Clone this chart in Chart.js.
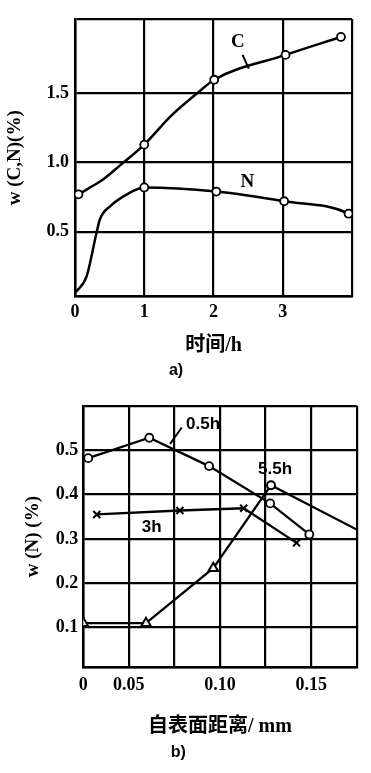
<!DOCTYPE html>
<html>
<head>
<meta charset="utf-8">
<script src="https://cdn.jsdelivr.net/npm/chart.js@4.4.1/dist/chart.umd.min.js"></script>
<style>
  html, body { margin: 0; padding: 0; background: #fff; }
  canvas { display: block; }
</style>
</head>
<body>
<canvas id="chartA" width="371" height="390"></canvas>
<canvas id="chartB" width="371" height="383"></canvas>
<script>
/* a) carbon / nitrogen content vs. time */
var timeTicks = [0, 1, 2, 3, 4];
var timeTickLabels = ['0', '1', '2', '3', ''];
var contentTicks = [0.03, 0.5, 1.0, 1.5, 2.04];
var contentTickLabels = ['', '0.5', '1.0', '1.5', ''];

// curve; marked = drawn with an open circle
var carbonTime = [0.05, 0.22, 0.41, 0.65, 1.0, 1.38, 1.76, 2.01, 3.04, 3.84];
var carbonValue = [0.77, 0.82, 0.88, 0.98, 1.13, 1.335, 1.50, 1.60, 1.78, 1.91];
var carbonMarked = [1, 0, 0, 0, 1, 0, 0, 1, 1, 1];

var nitrogenTime = [0.01, 0.17, 0.31, 0.36, 0.51, 0.75, 1.0, 2.04, 3.02, 3.95, 4.0];
var nitrogenValue = [0.06, 0.18, 0.49, 0.59, 0.685, 0.77, 0.82, 0.79, 0.72, 0.63, 0.61];
var nitrogenMarked = [0, 0, 0, 0, 0, 0, 1, 1, 1, 1, 0];

var labelsA = [
  { text: 'C', x: 2.35, y: 1.87 },
  { text: 'N', x: 2.49, y: 0.86 }
];
var leadersA = [[2.42, 1.78, 2.51, 1.68]];

/* b) nitrogen vs. depth below surface */
var depthTicks = [0.025, 0.05, 0.075, 0.1, 0.125, 0.15, 0.175];
var depthTickLabels = ['0', '0.05', '', '0.10', '', '0.15', ''];
var nitrogenTicks = [0.01, 0.1, 0.2, 0.3, 0.4, 0.5, 0.6];
var nitrogenTickLabels = ['', '0.1', '0.2', '0.3', '0.4', '0.5', ''];

var depth05h = [0.0277, 0.0612, 0.094, 0.1275, 0.149];
var n05h = [0.482, 0.528, 0.464, 0.38, 0.31];

var depth3h = [0.0324, 0.078, 0.113, 0.142];
var n3h = [0.355, 0.364, 0.369, 0.291];

var depth55h = [0.025, 0.0594, 0.0963, 0.128, 0.175];
var n55h = [0.11, 0.11, 0.234, 0.421, 0.321];
var style55h = ['triangle', 'triangle', 'triangle', 'circle', 'circle'];
var size55h = [5.5, 5.5, 5.5, 4, 0];

var labelsB = [
  { text: '0.5h', x: 0.0907, y: 0.559 },
  { text: '5.5h', x: 0.1302, y: 0.457 },
  { text: '3h', x: 0.0625, y: 0.326 }
];
var leadersB = [[0.079, 0.551, 0.0726, 0.514]];

var SERIF = "'Liberation Serif', 'DejaVu Serif', 'Noto Sans CJK SC', serif";
var SANS = "'Liberation Sans', 'Noto Sans CJK SC', sans-serif";
Chart.defaults.font.family = SERIF;
Chart.defaults.color = '#000';

function pairs(xs, ys) {
  return xs.map(function(x, i) { return { x: x, y: ys[i] }; });
}

function markerSizes(flags) {
  return flags.map(function(m) { return m ? 4 : 0; });
}

function fixedTicks(values) {
  return function(scale) {
    scale.ticks = values.map(function(v) { return { value: v }; });
  };
}

function labelPlugin(labels, leaders, font) {
  return {
    id: 'curveLabels',
    afterDatasetsDraw: function(chart) {
      var ctx = chart.ctx, xs = chart.scales.x, ys = chart.scales.y;
      ctx.save();
      ctx.fillStyle = '#000';
      ctx.strokeStyle = '#000';
      ctx.lineWidth = 2;
      ctx.font = font;
      ctx.textAlign = 'center';
      ctx.textBaseline = 'middle';
      labels.forEach(function(l) {
        ctx.fillText(l.text, xs.getPixelForValue(l.x), ys.getPixelForValue(l.y));
      });
      leaders.forEach(function(s) {
        ctx.beginPath();
        ctx.moveTo(xs.getPixelForValue(s[0]), ys.getPixelForValue(s[1]));
        ctx.lineTo(xs.getPixelForValue(s[2]), ys.getPixelForValue(s[3]));
        ctx.stroke();
      });
      ctx.restore();
    }
  };
}

var GRID = { color: '#000', lineWidth: 2.2, drawTicks: false };
var BORDER = { color: '#000', width: 2.5 };
var TICK_FONT = { family: SERIF, size: 18, weight: 'bold' };
var TITLE_FONT = { family: SERIF, size: 20, weight: 'bold' };
var YTITLE_FONT = { family: SERIF, size: 19, weight: 'bold' };

new Chart(document.getElementById('chartA'), {
  type: 'line',
  data: {
    datasets: [{
      label: 'C',
      data: pairs(carbonTime, carbonValue),
      borderColor: '#000', borderWidth: 2.5,
      cubicInterpolationMode: 'monotone',
      pointRadius: markerSizes(carbonMarked), pointBackgroundColor: '#fff',
      pointBorderColor: '#000', pointBorderWidth: 1.8
    }, {
      label: 'N',
      data: pairs(nitrogenTime, nitrogenValue),
      borderColor: '#000', borderWidth: 2.5,
      cubicInterpolationMode: 'monotone',
      pointRadius: markerSizes(nitrogenMarked),
      pointBackgroundColor: '#fff',
      pointBorderColor: '#000', pointBorderWidth: 1.8
    }]
  },
  options: {
    responsive: false,
    animation: false,
    layout: { padding: { left: 0, right: 19, top: 19, bottom: 4 } },
    plugins: {
      legend: { display: false },
      tooltip: { enabled: false },
      title: {
        display: true, position: 'bottom', text: 'a)', color: '#000',
        font: { family: SANS, size: 16, weight: 'bold' },
        padding: { top: 0, bottom: 6 }
      }
    },
    scales: {
      x: {
        type: 'linear', min: 0, max: 4,
        afterBuildTicks: fixedTicks(timeTicks),
        afterFit: function(s) { s.height = 64.3; },
        ticks: {
          autoSkip: false, maxRotation: 0, padding: 5, font: TICK_FONT,
          callback: function(v, i) { return timeTickLabels[i]; }
        },
        grid: GRID, border: BORDER,
        title: { display: true, text: '时间/h', font: TITLE_FONT, padding: { top: 0, bottom: 3 } }
      },
      y: {
        type: 'linear', min: 0.03, max: 2.04,
        afterBuildTicks: fixedTicks(contentTicks),
        afterFit: function(s) { s.width = 75; },
        ticks: {
          autoSkip: false, padding: 6, font: TICK_FONT,
          callback: function(v, i) { return contentTickLabels[i]; }
        },
        grid: GRID, border: BORDER,
        title: { display: true, text: 'w (C,N)(%)', font: YTITLE_FONT, padding: { top: 4, bottom: 0 } }
      }
    }
  },
  plugins: [labelPlugin(labelsA, leadersA, "bold 19px " + SERIF)]
});

new Chart(document.getElementById('chartB'), {
  type: 'line',
  data: {
    datasets: [{
      label: '0.5h',
      data: pairs(depth05h, n05h),
      borderColor: '#000', borderWidth: 2.3, tension: 0,
      pointStyle: 'circle', pointRadius: 4,
      pointBackgroundColor: '#fff', pointBorderColor: '#000', pointBorderWidth: 1.8
    }, {
      label: '3h',
      data: pairs(depth3h, n3h),
      borderColor: '#000', borderWidth: 2.3, tension: 0,
      pointStyle: 'crossRot', pointRadius: 5,
      pointBorderColor: '#000', pointBorderWidth: 2
    }, {
      label: '5.5h',
      data: pairs(depth55h, n55h),
      borderColor: '#000', borderWidth: 2.3, tension: 0,
      pointStyle: style55h, pointRadius: size55h,
      pointBackgroundColor: '#fff', pointBorderColor: '#000', pointBorderWidth: 2
    }]
  },
  options: {
    responsive: false,
    animation: false,
    layout: { padding: { left: 0, right: 14.3, top: 14, bottom: 5 } },
    plugins: {
      legend: { display: false },
      tooltip: { enabled: false },
      title: {
        display: true, position: 'bottom', text: 'b)', color: '#000',
        font: { family: SANS, size: 16, weight: 'bold' },
        padding: { top: 0, bottom: 6 }
      }
    },
    scales: {
      x: {
        type: 'linear', min: 0.025, max: 0.175,
        afterBuildTicks: fixedTicks(depthTicks),
        afterFit: function(s) { s.height = 75.3; },
        ticks: {
          autoSkip: false, maxRotation: 0, padding: 7, font: TICK_FONT,
          callback: function(v, i) { return depthTickLabels[i]; }
        },
        grid: GRID, border: BORDER,
        title: { display: true, text: '自表面距离/ mm', font: TITLE_FONT, padding: { top: 0, bottom: 4 } }
      },
      y: {
        type: 'linear', min: 0.01, max: 0.6,
        afterBuildTicks: fixedTicks(nitrogenTicks),
        afterFit: function(s) { s.width = 83.3; },
        ticks: {
          autoSkip: false, padding: 5, font: TICK_FONT,
          callback: function(v, i) { return nitrogenTickLabels[i]; }
        },
        grid: GRID, border: BORDER,
        title: { display: true, text: 'w (N) (%)', font: YTITLE_FONT, padding: { top: 22, bottom: 0 } }
      }
    }
  },
  plugins: [labelPlugin(labelsB, leadersB, "bold 17px " + SANS)]
});
</script>
</body>
</html>
